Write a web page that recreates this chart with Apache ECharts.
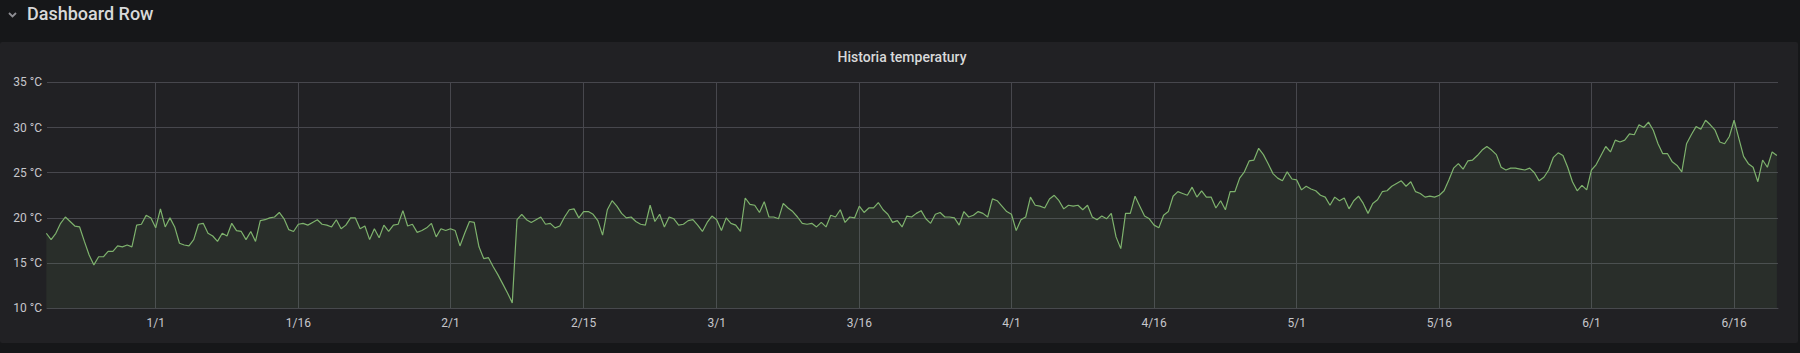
<!DOCTYPE html>
<html>
<head>
<meta charset="utf-8">
<script src="https://cdn.jsdelivr.net/npm/echarts@6/dist/echarts.min.js"></script>
<style>
  html, body { margin: 0; padding: 0; background: #161719; }
  #chart { width: 1800px; height: 353px; }
</style>
</head>
<body>
<div id="chart"></div>
<script>
// ---- data ----
const rowTitle = 'Dashboard Row';
const chartTitle = 'Historia temperatury';
const seriesName = 'Temperatura';
// first sample: 2022-12-20 12:00, one sample every 12 hours
const dataStart = [2022, 11, 20, 12];
const stepHours = 12;
const temps = [
  // Dec 20 12:00 .. Feb 8 00:00
  18.3, 17.6, 18.3, 19.4, 20.1, 19.6, 19.1, 19.0, 17.4, 15.9,
  14.8, 15.7, 15.7, 16.3, 16.3, 16.9, 16.8, 17.0, 16.8, 19.2,
  19.3, 20.3, 20.0, 18.9, 21.0, 19.0, 20.0, 19.0, 17.2, 17.0,
  16.9, 17.6, 19.3, 19.4, 18.3, 18.0, 17.4, 18.3, 18.0, 19.4,
  18.6, 18.5, 17.6, 18.5, 17.4, 19.7, 19.8, 20.0, 20.1, 20.6,
  19.9, 18.7, 18.5, 19.3, 19.4, 19.2, 19.5, 19.8, 19.3, 19.2,
  19.0, 19.8, 18.8, 19.2, 20.0, 20.0, 18.8, 19.1, 17.6, 18.8,
  17.8, 19.2, 18.5, 19.2, 19.3, 20.8, 19.1, 19.3, 18.4, 18.6,
  18.9, 19.4, 17.9, 18.8, 18.6, 18.8, 18.6, 16.9, 18.3, 19.6,
  19.5, 16.8, 15.5, 15.6, 14.6, 13.7, 12.7, 11.7, 10.6,
  // Feb 8 12:00 .. Mar 24 00:00
  19.8, 20.4, 19.8, 19.5, 19.8, 20.1, 19.3, 19.4, 18.9, 19.1,
  20.1, 20.9, 21.0, 20.0, 20.7, 20.7, 20.4, 19.7, 18.1, 20.9,
  21.9, 21.3, 20.5, 20.0, 20.1, 19.6, 19.3, 19.2, 21.4, 19.6,
  20.4, 19.0, 20.1, 19.9, 19.2, 19.3, 19.7, 19.8, 19.2, 18.5,
  19.5, 20.2, 19.8, 18.6, 20.0, 19.4, 19.2, 18.5, 22.2, 21.5,
  21.4, 20.6, 21.8, 20.1, 20.1, 19.9, 21.6, 21.1, 20.7, 20.1,
  19.4, 19.3, 19.4, 19.0, 19.5, 19.0, 20.3, 20.1, 20.9, 19.5,
  20.1, 20.0, 21.3, 20.6, 21.1, 21.1, 21.7, 20.9, 20.4, 19.5,
  19.7, 19.0, 20.2, 20.1, 20.5, 20.8, 19.9, 19.4,
  // Mar 24 12:00 .. May 9 00:00
  20.4, 20.6, 20.1, 20.1, 20.0, 19.2, 20.7, 20.1, 20.3, 20.7,
  20.5, 20.1, 22.1, 21.9, 21.3, 20.7, 20.4, 18.6, 19.8, 20.1,
  22.3, 21.4, 21.3, 21.1, 22.1, 22.5, 21.9, 21.0, 21.4, 21.3,
  21.4, 20.9, 21.4, 20.1, 19.8, 20.2, 19.9, 20.5, 17.9, 16.6,
  20.5, 20.5, 22.4, 21.3, 20.2, 19.9, 19.2, 18.9, 20.3, 20.7,
  22.4, 22.9, 22.7, 22.5, 23.4, 22.3, 23.0, 22.3, 22.3, 21.1,
  21.9, 20.9, 22.9, 22.9, 24.4, 25.1, 26.3, 26.4, 27.7, 27.0,
  26.0, 24.9, 24.4, 24.1, 25.1, 24.3, 24.2, 23.1, 23.5, 23.2,
  23.0, 22.5, 22.3, 21.4, 22.3, 21.9, 22.2, 21.0, 21.9, 22.4,
  21.6, 20.5, 21.6,
  // May 9 12:00 .. Jun 20 12:00
  22.0, 22.9, 23.0, 23.5, 23.8, 24.1, 23.5, 24.0, 22.9, 22.7,
  22.3, 22.4, 22.3, 22.5, 23.0, 24.2, 25.5, 26.0, 25.4, 26.3,
  26.4, 26.9, 27.5, 27.9, 27.5, 27.0, 25.6, 25.3, 25.5, 25.5,
  25.4, 25.3, 25.5, 25.0, 24.1, 24.5, 25.3, 26.7, 27.2, 26.9,
  25.6, 24.0, 23.0, 23.6, 23.1, 25.3, 25.9, 26.9, 27.9, 27.3,
  28.6, 28.4, 28.6, 29.3, 29.2, 30.3, 30.0, 30.6, 29.7, 28.2,
  27.1, 27.1, 26.2, 25.8, 25.1, 28.2, 29.2, 30.1, 29.8, 30.8,
  30.3, 29.7, 28.4, 28.2, 29.0, 30.8, 28.8, 26.8, 26.0, 25.6,
  24.0, 26.4, 25.6, 27.3, 26.9
];
// x range shown (local time)
const rangeStart = [2022, 11, 20, 13, 40];
const rangeEnd = [2023, 5, 20, 14, 50];
// x tick dates [year, monthIndex, day] and y axis
const xTicks = [
  [2023, 0, 1], [2023, 0, 16], [2023, 1, 1], [2023, 1, 15],
  [2023, 2, 1], [2023, 2, 16], [2023, 3, 1], [2023, 3, 16],
  [2023, 4, 1], [2023, 4, 16], [2023, 5, 1], [2023, 5, 16]
];
const yMin = 10, yMax = 35, yStep = 5;
const yUnit = ' °C';

// ---- build ----
const t0 = new Date(dataStart[0], dataStart[1], dataStart[2], dataStart[3]).getTime();
const seriesData = temps.map((v, i) => [t0 + i * stepHours * 3600000, v]);
const tickValues = xTicks.map(a => new Date(a[0], a[1], a[2]).getTime());
const xMin = new Date(...rangeStart).getTime();
const xMax = new Date(...rangeEnd).getTime();

const FONT = 'Roboto, "Helvetica Neue", Arial, sans-serif';
const gridColor = '#47474d';
const textColor = '#c7c7cc';

const chart = echarts.init(document.getElementById('chart'), null, { renderer: 'svg' });
chart.setOption({
  backgroundColor: '#161719',
  animation: false,
  textStyle: { fontFamily: FONT },
  graphic: [
    { type: 'rect', shape: { x: 0, y: 42, width: 1798, height: 301, r: 2 }, style: { fill: '#212124' }, z: -10, silent: true },
    { type: 'polyline', shape: { points: [[9, 13], [12.5, 16.5], [16, 13]] }, style: { stroke: '#8e8e93', lineWidth: 1.8, fill: null } },
    { type: 'text', x: 27, y: 13, style: { text: rowTitle, fill: '#d8d9da', font: '500 18px ' + FONT, textVerticalAlign: 'middle', textAlign: 'left' } },
    { type: 'text', x: 902, y: 57, style: { text: chartTitle, fill: '#d8d9da', font: '500 14px ' + FONT, textVerticalAlign: 'middle', textAlign: 'center' } }
  ],
  grid: { left: 47, right: 22, top: 82.3, bottom: 44.7, containLabel: false },
  xAxis: {
    type: 'value',
    min: xMin,
    max: xMax,
    scale: true,
    axisLine: { show: true, onZero: false, lineStyle: { color: gridColor, width: 1 } },
    axisTick: { show: false, customValues: tickValues },
    axisLabel: {
      customValues: tickValues,
      color: textColor,
      fontSize: 12,
      fontFamily: FONT,
      margin: 9,
      formatter: function (v) { const d = new Date(v); return (d.getMonth() + 1) + '/' + d.getDate(); }
    },
    splitLine: { show: true, lineStyle: { color: gridColor, width: 1 } }
  },
  yAxis: {
    type: 'value',
    min: yMin,
    max: yMax,
    interval: yStep,
    axisLine: { show: false },
    axisTick: { show: false },
    axisLabel: { color: textColor, fontSize: 12, fontFamily: FONT, margin: 5, formatter: v => v + yUnit },
    splitLine: { show: true, lineStyle: { color: gridColor, width: 1 } }
  },
  series: [{
    name: seriesName,
    type: 'line',
    data: seriesData,
    showSymbol: false,
    symbol: 'none',
    smooth: false,
    lineStyle: { color: '#7eb26d', width: 1.2 },
    areaStyle: { color: 'rgba(126,178,109,0.13)', origin: 'start' },
    clip: true
  }]
});
</script>
</body>
</html>
